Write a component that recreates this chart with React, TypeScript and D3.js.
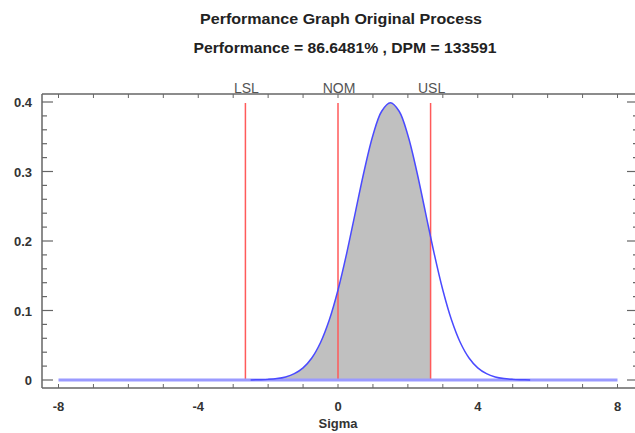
import React from "react";
import * as d3 from "d3";

// density curve (sigma, density)
const curveX = [-2.5, -2.25, -2, -1.75, -1.5, -1.25, -1, -0.75, -0.5, -0.25, 0, 0.25, 0.5, 0.75, 1, 1.25, 1.5,
  1.75, 2, 2.25, 2.5, 2.75, 3, 3.25, 3.5, 3.75, 4, 4.25, 4.5, 4.75, 5, 5.25, 5.5];
const curveY = [0.0001, 0.0004, 0.0009, 0.002, 0.0044, 0.0091, 0.0175, 0.0317, 0.054, 0.0863, 0.1295, 0.1826,
  0.242, 0.3011, 0.3521, 0.3867, 0.3989, 0.3867, 0.3521, 0.3011, 0.242, 0.1826, 0.1295, 0.0863, 0.054, 0.0317,
  0.0175, 0.0091, 0.0044, 0.002, 0.0009, 0.0004, 0.0001];

const limitNames = ["LSL", "NOM", "USL"];
const limitValues = [-2.65, 0, 2.65];

const xTickLabels = [-8, -4, 0, 4, 8];
const yTickLabels = [0, 0.1, 0.2, 0.3, 0.4];

const title = "Performance Graph Original Process";
const subtitle = "Performance = 86.6481% , DPM = 133591";
const xTitle = "Sigma";

const W = 635;
const H = 433;
const box = { left: 42, right: 637, top: 94, bottom: 388 };

export default function App() {
  const x = d3.scaleLinear().domain([-8, 8]).range([58.5, 617.5]);
  const y = d3.scaleLinear().domain([0, 0.4]).range([380, 102]);

  const pts = curveX.map((v, i) => [v, curveY[i]] as [number, number]);
  const line = d3
    .line<[number, number]>()
    .x((d) => x(d[0]))
    .y((d) => y(d[1]))
    .curve(d3.curveCatmullRom);
  const area = d3
    .area<[number, number]>()
    .x((d) => x(d[0]))
    .y0(y(0))
    .y1((d) => y(d[1]))
    .curve(d3.curveCatmullRom);

  const minorX = d3.range(-8, 8.001, 1);
  const minorY = d3.range(0, 0.4001, 0.02);
  const font = "'Liberation Sans', Arial, sans-serif";
  const lsl = limitValues[0];
  const usl = limitValues[2];

  return (
    <svg width={W} height={H} style={{ position: "absolute", left: 0, top: 0 }} fontFamily={font}>
      <rect width={W} height={H} fill="#fff" />
      <defs>
        <clipPath id="spec">
          <rect x={x(lsl)} y={box.top} width={x(usl) - x(lsl)} height={box.bottom - box.top} />
        </clipPath>
      </defs>

      <text x={341} y={24} textAnchor="middle" fontSize={14} fontWeight="bold" fill="#222"
        textLength={282} lengthAdjust="spacingAndGlyphs">
        {title}
      </text>
      <text x={345} y={53} textAnchor="middle" fontSize={14} fontWeight="bold" fill="#222"
        textLength={303} lengthAdjust="spacingAndGlyphs">
        {subtitle}
      </text>

      {/* shaded area inside spec limits */}
      <path d={area(pts) || ""} fill="#c0c0c0" clipPath="url(#spec)" />

      {/* limit lines */}
      {limitValues.map((v, i) => (
        <g key={limitNames[i]}>
          <line x1={x(v)} x2={x(v)} y1={103} y2={y(0)} stroke="#ff5a5a" strokeWidth={1.5} />
          <text x={x(v) + 1} y={93} textAnchor="middle" fontSize={14} fill="#555">
            {limitNames[i]}
          </text>
        </g>
      ))}

      {/* baseline of distribution */}
      <line x1={x(-8)} x2={x(8)} y1={y(0)} y2={y(0)} stroke="#9a9aff" strokeWidth={3} />
      <path d={line(pts) || ""} fill="none" stroke="#4a4aff" strokeWidth={1.5} />

      {/* frame */}
      <line x1={box.left} x2={box.right} y1={box.top} y2={box.top} stroke="#666" strokeWidth={1.5} />
      <line x1={box.left} x2={box.right} y1={box.bottom} y2={box.bottom} stroke="#666" strokeWidth={1.5} />
      <line x1={box.left} x2={box.left} y1={box.top} y2={box.bottom} stroke="#666" strokeWidth={1.5} />

      {/* x ticks */}
      {minorX.map((v) => (
        <g key={"xt" + v} stroke="#666" strokeWidth={1}>
          <line x1={x(v)} x2={x(v)} y1={box.bottom} y2={box.bottom - 4} />
          <line x1={x(v)} x2={x(v)} y1={box.top} y2={box.top + 4} />
        </g>
      ))}
      {xTickLabels.map((v) => (
        <text key={"xl" + v} x={x(v)} y={411} textAnchor="middle" fontSize={13} fontWeight="bold" fill="#333">
          {v}
        </text>
      ))}
      <text x={x(0)} y={428} textAnchor="middle" fontSize={13} fontWeight="bold" fill="#333">
        {xTitle}
      </text>

      {/* y ticks */}
      {minorY.map((v, i) => {
        const major = i % 5 === 0;
        return (
          <g key={"yt" + i} stroke="#666" strokeWidth={1.2}>
            <line x1={box.left} x2={box.left + (major ? 11 : 5)} y1={y(v)} y2={y(v)} />
            <line x1={box.right} x2={box.right - (major ? 10 : 4)} y1={y(v)} y2={y(v)} />
          </g>
        );
      })}
      {yTickLabels.map((v) => (
        <text key={"yl" + v} x={32} y={y(v) + 5} textAnchor="end" fontSize={13} fontWeight="bold" fill="#333">
          {v}
        </text>
      ))}
    </svg>
  );
}
